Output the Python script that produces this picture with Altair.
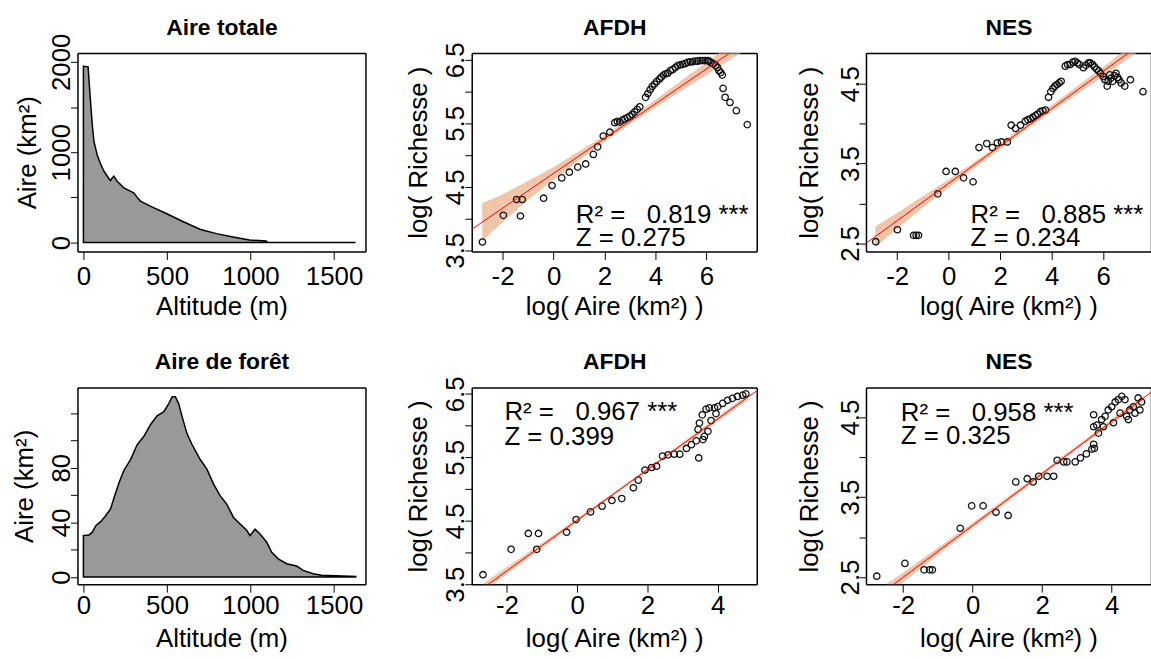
import altair as alt
import pandas as pd

FONT = "Liberation Sans"
FS = 26

# ---------------- data ----------------
# Aire totale (area vs altitude)
alt_tot = [0, 28, 34, 44, 53, 63, 83, 103, 123, 143, 162, 172, 182, 202, 242, 301, 321, 341,
           400, 499, 598, 697, 796, 895, 994, 1050, 1093, 1105, 1624]
area_tot = [1952, 1945, 1780, 1523, 1303, 1119, 965, 870, 789, 734, 686, 716, 734, 679, 606, 550, 503, 459,
            404, 319, 231, 147, 99, 62, 29, 22, 18, 3, 2]

# Aire de foret
alt_for = [0, 34, 54, 74, 103, 133, 163, 183, 213, 242, 282, 322, 362, 401, 441, 481, 511, 531, 550,
           570, 590, 620, 650, 699, 739, 779, 819, 858, 898, 938, 978, 997, 1027, 1057, 1097, 1127,
           1166, 1216, 1276, 1315, 1375, 1425, 1630]
area_for = [30.3, 30.8, 33, 37.6, 40.5, 44.8, 50, 58, 69, 78, 86, 97, 103, 111.5, 118, 121, 127, 132, 132,
            127, 117.6, 105, 97, 86, 79, 68, 59.4, 53.3, 43.6, 38.8, 34, 30.3, 35, 31.5, 25.5, 18,
            13.3, 9.7, 8, 4.8, 2.4, 1.2, 0.3]

# AFDH, total area
afdh_t_x = [-2.79, -1.97, -1.45, -1.30, -1.23, -0.39, -0.06, 0.32, 0.62, 0.95, 1.26, 1.56, 1.73, 1.95,
            2.21, 2.40, 2.50, 2.60, 2.70, 2.79, 2.89, 2.99, 3.08, 3.18, 3.28, 3.38, 3.61, 3.70, 3.79,
            3.87, 3.96, 4.05, 4.16, 4.23, 4.31, 4.40, 4.48, 4.58, 4.68, 4.78, 4.87, 4.97, 5.06, 5.16,
            5.26, 5.36, 5.45, 5.55, 5.65, 5.75, 5.84, 5.94, 6.04, 6.10, 6.17, 6.27, 6.36, 6.43, 6.49,
            6.56, 6.62, 6.65, 6.73, 6.92, 7.17, 7.60]
afdh_t_y = [3.63, 4.05, 4.30, 4.04, 4.30, 4.32, 4.52, 4.64, 4.73, 4.81, 4.86, 5.01, 5.13, 5.30,
            5.36, 5.51, 5.53, 5.52, 5.55, 5.57, 5.59, 5.61, 5.64, 5.68, 5.72, 5.76, 5.91, 5.97, 6.03,
            6.08, 6.12, 6.16, 6.20, 6.23, 6.26, 6.28, 6.29, 6.33, 6.35, 6.38, 6.41, 6.42, 6.43, 6.44,
            6.46, 6.47, 6.47, 6.48, 6.48, 6.49, 6.49, 6.49, 6.49, 6.48, 6.46, 6.44, 6.41, 6.38, 6.33,
            6.30, 6.26, 6.05, 5.91, 5.83, 5.70, 5.48]
afdh_t_line_x = [-3.21, 7.97]
afdh_t_line_y = [3.83, 6.90]
afdh_t_band_x = [-2.8, -2, -1, 0, 1, 2, 3, 4, 5, 6, 7, 7.6]
afdh_t_band_lo = [3.64, 3.94, 4.29, 4.61, 4.92, 5.21, 5.49, 5.75, 6.01, 6.26, 6.52, 6.67]
afdh_t_band_hi = [4.24, 4.38, 4.59, 4.81, 5.06, 5.31, 5.59, 5.87, 6.17, 6.46, 6.76, 6.93]

# NES, total area
nes_t_x = [-2.83, -1.99, -1.36, -1.26, -1.17, -0.42, -0.10, 0.26, 0.58, 0.95, 1.18, 1.48, 1.70, 1.89,
           2.05, 2.28, 2.43, 2.60, 2.79, 2.98, 3.08, 3.18, 3.27, 3.37, 3.46, 3.56, 3.66, 3.76, 3.88,
           3.97, 4.05, 4.13, 4.21, 4.29, 4.37, 4.53, 4.62, 4.72, 4.82, 4.91, 5.00, 5.08, 5.23, 5.33,
           5.43, 5.50, 5.59, 5.67, 5.75, 5.83, 5.90, 6.00, 6.07, 6.16, 6.20, 6.26, 6.31, 6.37, 6.44,
           6.50, 6.56, 6.62, 6.70, 6.84, 7.06, 7.55]
nes_t_y = [2.52, 2.67, 2.60, 2.60, 2.60, 3.12, 3.40, 3.40, 3.32, 3.27, 3.70, 3.75, 3.70, 3.76,
           3.77, 3.77, 3.98, 3.94, 3.98, 4.03, 4.05, 4.06, 4.08, 4.10, 4.12, 4.15, 4.16, 4.17, 4.33,
           4.40, 4.44, 4.47, 4.49, 4.51, 4.53, 4.72, 4.74, 4.74, 4.77, 4.78, 4.76, 4.74, 4.70, 4.73,
           4.76, 4.76, 4.74, 4.71, 4.68, 4.66, 4.63, 4.59, 4.55, 4.47, 4.53, 4.61, 4.57, 4.53, 4.60,
           4.63, 4.58, 4.55, 4.51, 4.47, 4.55, 4.40]
nes_t_line_x = [-3.21, 7.86]
nes_t_line_y = [2.50, 5.09]
nes_t_band_x = [-2.85, -2, -1, 0, 1, 2, 3, 4, 5, 6, 7, 7.6]
nes_t_band_lo = [2.45, 2.68, 2.95, 3.20, 3.44, 3.68, 3.92, 4.15, 4.37, 4.59, 4.82, 4.95]
nes_t_band_hi = [2.71, 2.88, 3.09, 3.30, 3.52, 3.75, 3.99, 4.23, 4.47, 4.71, 4.96, 5.11]

# AFDH, forest area
afdh_f_x = [-2.68, -1.88, -1.39, -1.15, -1.10, -0.30, -0.03, 0.38, 0.71, 0.99, 1.27, 1.60, 1.74, 1.93,
            2.12, 2.26, 2.43, 2.59, 2.76, 2.92, 3.11, 3.25, 3.39, 3.44, 3.46, 3.48, 3.56, 3.58, 3.62,
            3.67, 3.72, 3.76, 3.81, 3.91, 3.95, 4.00, 4.14, 4.28, 4.42, 4.56, 4.71, 4.80]
afdh_f_y = [3.65, 4.05, 4.30, 4.05, 4.30, 4.32, 4.52, 4.64, 4.73, 4.82, 4.85, 5.02, 5.14, 5.30,
            5.34, 5.36, 5.52, 5.54, 5.55, 5.55, 5.64, 5.70, 5.76, 5.94, 5.49, 6.04, 6.17, 5.78, 5.83,
            6.26, 5.91, 6.28, 6.08, 6.28, 6.19, 6.30, 6.35, 6.40, 6.43, 6.46, 6.48, 6.50]
afdh_f_line_x = [-3.0, 5.11]
afdh_f_line_y = [3.31, 6.55]
afdh_f_band_x = [-2.7, -2, -1, 0, 1, 2, 3, 4, 4.85]
afdh_f_band_lo = [3.36, 3.66, 4.07, 4.48, 4.88, 5.28, 5.68, 6.07, 6.40]
afdh_f_band_hi = [3.50, 3.77, 4.15, 4.54, 4.93, 5.33, 5.74, 6.14, 6.49]

# NES, forest area
nes_f_x = [-2.76, -1.95, -1.40, -1.24, -1.16, -0.36, -0.03, 0.30, 0.67, 1.02, 1.24, 1.57, 1.74, 1.90,
           2.14, 2.33, 2.43, 2.62, 2.71, 2.95, 3.10, 3.27, 3.43, 3.48, 3.50, 3.48, 3.48, 3.57, 3.62,
           3.71, 3.76, 3.81, 3.90, 4.00, 4.05, 4.10, 4.19, 4.24, 4.29, 4.38, 4.43, 4.48, 4.52, 4.62,
           4.67, 4.76, 4.81, 4.86]
nes_f_y = [2.51, 2.67, 2.59, 2.59, 2.59, 3.11, 3.39, 3.39, 3.31, 3.27, 3.69, 3.73, 3.69, 3.76,
           3.76, 3.76, 3.96, 3.94, 3.94, 3.94, 3.99, 4.04, 4.10, 4.16, 4.11, 4.53, 4.38, 4.40, 4.30,
           4.47, 4.38, 4.51, 4.59, 4.63, 4.43, 4.69, 4.72, 4.55, 4.76, 4.72, 4.51, 4.47, 4.59, 4.63,
           4.55, 4.74, 4.59, 4.69]
nes_f_line_x = [-3.07, 5.13]
nes_f_line_y = [2.15, 4.81]
nes_f_band_x = [-2.8, -2, -1, 0, 1, 2, 3, 4, 4.9]
nes_f_band_lo = [2.155, 2.435, 2.775, 3.11, 3.44, 3.77, 4.095, 4.415, 4.70]
nes_f_band_hi = [2.315, 2.555, 2.865, 3.18, 3.50, 3.82, 4.145, 4.475, 4.77]

# annotations (non-breaking spaces keep the wide gap after "=")
ann_afdh_t = ["R\u00b2 = \u00a0\u00a00.819 ***", "Z = 0.275"]
ann_nes_t = ["R\u00b2 = \u00a0\u00a00.885 ***", "Z = 0.234"]
ann_afdh_f = ["R\u00b2 = \u00a0\u00a00.967 ***", "Z = 0.399"]
ann_nes_f = ["R\u00b2 = \u00a0\u00a00.958 ***", "Z = 0.325"]

# ---------------- helpers ----------------
FRAME = dict(domain=True, domainColor="black", domainWidth=1.5, grid=False)


def xaxis(values, title, label_pad):
    return alt.Axis(values=values, labelExpr="'' + datum.value", title=title,
                    labelAngle=0, labelAlign="center", labelBaseline="alphabetic",
                    labelPadding=label_pad, tickSize=8, tickWidth=1, tickColor="black",
                    labelFont=FONT, labelFontSize=FS,
                    labelColor="black", labelOverlap=False, labelFlush=False,
                    titleFont=FONT, titleFontSize=FS, titleFontWeight="normal",
                    titleColor="black", titleBaseline="alphabetic", titlePadding=30,
                    minExtent=33, maxExtent=33, **FRAME)


def top_axis(title):
    # panel title carried by a label-less top axis; its domain is the top of the box
    return alt.Axis(orient="top", title=title, labels=False, ticks=False,
                    titleFont=FONT, titleFontSize=23, titleFontWeight="bold",
                    titleColor="black", titleBaseline="alphabetic", titlePadding=19,
                    minExtent=0, maxExtent=0, **FRAME)


def right_axis():
    return alt.Axis(orient="right", title=None, labels=False, ticks=False,
                    minExtent=0, maxExtent=0, **FRAME)


def yaxis(values, expr, title, title_pad):
    return alt.Axis(values=values, labelExpr=expr, title=title,
                    labelAngle=270, labelAlign="center", labelBaseline="alphabetic",
                    labelPadding=1, tickSize=7, tickWidth=1, tickColor="black",
                    labelFont=FONT, labelFontSize=FS,
                    labelColor="black", labelOverlap=False, labelFlush=False,
                    titleFont=FONT, titleFontSize=FS, titleFontWeight="normal",
                    titleColor="black", titleBaseline="alphabetic", titleAngle=270,
                    titlePadding=title_pad, minExtent=30, maxExtent=30, **FRAME)


HALF = "(datum.value * 2) % 2 == 1 ? '' + datum.value : ''"
X_LOG = "log( Aire (km\u00b2) )"
Y_LOG = "log( Richesse )"


def encs(xdom, ydom):
    xs = alt.Scale(domain=xdom, nice=False, zero=False)
    ys = alt.Scale(domain=ydom, nice=False, zero=False)
    return (lambda axis: alt.X("x:Q", scale=xs, axis=axis)), \
           (lambda axis: alt.Y("y:Q", scale=ys, axis=axis))


def area_panel(xs, ys, xdom, ydom, yvals, yexpr, title, w, h, label_pad, tpad):
    df = pd.DataFrame({"x": xs, "y": ys})
    xe, ye = encs(xdom, ydom)
    fill = alt.Chart(df).mark_area(color="#999999", clip=True).encode(
        x=xe(xaxis([0, 500, 1000, 1500], "Altitude (m)", label_pad)),
        y=ye(yaxis(yvals, yexpr, "Aire (km\u00b2)", tpad)), y2=alt.Y2Datum(0))
    outline = alt.Chart(df).mark_area(fillOpacity=0, stroke="black", strokeWidth=1.5,
                                      clip=True).encode(
        x=xe(top_axis(title)), y=ye(right_axis()), y2=alt.Y2Datum(0))
    return alt.layer(fill, outline).resolve_axis(x="independent", y="independent").properties(
        width=w, height=h)


def sar_panel(px, py, lx, ly, bx, blo, bhi, ann, ax, ay, xdom, ydom, xvals, yvals,
              title, w, h, label_pad, tpad):
    xe, ye = encs(xdom, ydom)
    band = alt.Chart(pd.DataFrame({"x": bx, "y": blo, "y2": bhi})).mark_area(
        color="#E8A87C", opacity=0.65, clip=True).encode(
        x=xe(xaxis(xvals, X_LOG, label_pad)), y=ye(yaxis(yvals, HALF, Y_LOG, tpad)), y2="y2:Q")
    pts = alt.Chart(pd.DataFrame({"x": px, "y": py})).mark_point(
        shape="circle", filled=False, color="#111111", size=42, strokeWidth=1.3,
        opacity=1, clip=True).encode(x=xe(None), y=ye(None))
    line = alt.Chart(pd.DataFrame({"x": lx, "y": ly})).mark_line(
        color="red", strokeWidth=1, clip=True).encode(x=xe(None), y=ye(right_axis()))
    txt = alt.Chart(pd.DataFrame({"x": [ax, ax], "y": ay, "t": ann})).mark_text(
        align="left", baseline="alphabetic", font=FONT, fontSize=FS,
        color="black").encode(x=xe(top_axis(title)), y=ye(None), text="t:N")
    return alt.layer(band, pts, line, txt).resolve_axis(
        x="independent", y="independent").properties(width=w, height=h)


p1 = area_panel(alt_tot, area_tot, [-35.7, 1688], [-99, 2099], [0, 500, 1000, 1500, 2000],
                "datum.value % 1000 == 0 ? '' + datum.value : ''", "Aire totale", 290, 200, 25, 12)
p2 = sar_panel(afdh_t_x, afdh_t_y, afdh_t_line_x, afdh_t_line_y, afdh_t_band_x, afdh_t_band_lo,
               afdh_t_band_hi, ann_afdh_t, 0.87, [3.93, 3.57], [-3.21, 7.97], [3.48, 6.61],
               [-2, 0, 2, 4, 6], [3.5, 4, 4.5, 5, 5.5, 6, 6.5], "AFDH", 287, 200, 25, 16)
p3 = sar_panel(nes_t_x, nes_t_y, nes_t_line_x, nes_t_line_y, nes_t_band_x, nes_t_band_lo,
               nes_t_band_hi, ann_nes_t, 0.85, [2.758, 2.471], [-3.21, 7.86], [2.397, 4.886],
               [-2, 0, 2, 4, 6], [2.5, 3, 3.5, 4, 4.5], "NES", 287, 200, 25, 19)
p4 = area_panel(alt_for, area_for, [-35.7, 1688], [-5.3, 138.7], [0, 20, 40, 60, 80, 100, 120],
                "datum.value % 40 == 0 && datum.value <= 80 ? '' + datum.value : ''",
                "Aire de for\u00eat", 290, 198, 21, 15)
p5 = sar_panel(afdh_f_x, afdh_f_y, afdh_f_line_x, afdh_f_line_y, afdh_f_band_x, afdh_f_band_lo,
               afdh_f_band_hi, ann_afdh_f, -2.07, [6.09, 5.70], [-3.0, 5.11], [3.5, 6.6],
               [-2, 0, 2, 4], [3.5, 4, 4.5, 5, 5.5, 6, 6.5], "AFDH", 287, 198, 21, 16)
p6 = sar_panel(nes_f_x, nes_f_y, nes_f_line_x, nes_f_line_y, nes_f_band_x, nes_f_band_lo,
               nes_f_band_hi, ann_nes_f, -2.07, [4.447, 4.161], [-3.07, 5.13], [2.41, 4.87],
               [-2, 0, 2, 4], [2.5, 3, 3.5, 4, 4.5], "NES", 287, 198, 21, 19)

chart = alt.concat(p1, p2, p3, p4, p5, p6, columns=3, bounds="flush", align="all",
                   spacing={"row": 137, "column": 107}).properties(
    padding={"left": 11, "top": 14, "right": 0, "bottom": 0}, background="white"
).configure(font=FONT, view=alt.ViewConfig(strokeWidth=0))

chart.save("out.html", embed_options={"renderer": "svg", "actions": False})
